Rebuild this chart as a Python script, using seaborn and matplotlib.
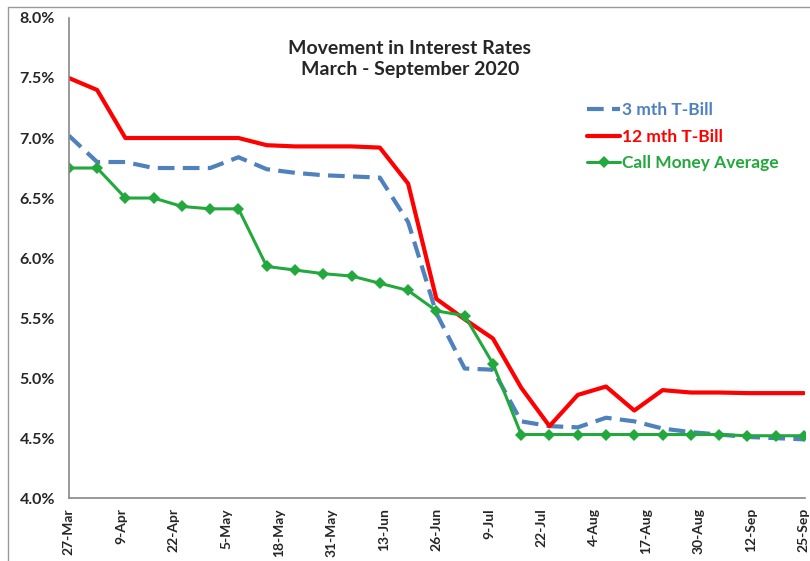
import pandas as pd
import matplotlib.pyplot as plt
import matplotlib.dates as mdates
from matplotlib.lines import Line2D
from matplotlib.ticker import PercentFormatter
import seaborn as sns

dates = pd.date_range("2020-03-27", "2020-09-25", freq="7D")

tbill_3m = [7.02, 6.80, 6.80, 6.75, 6.75, 6.75, 6.84, 6.74, 6.71, 6.69, 6.68, 6.67, 6.30,
            5.54, 5.08, 5.07, 4.64, 4.60, 4.59, 4.67, 4.64, 4.58, 4.55, 4.53, 4.51, 4.50, 4.49]
tbill_12m = [7.50, 7.40, 7.00, 7.00, 7.00, 7.00, 7.00, 6.94, 6.93, 6.93, 6.93, 6.92, 6.62,
             5.66, 5.49, 5.33, 4.92, 4.60, 4.86, 4.93, 4.73, 4.90, 4.88, 4.88, 4.875, 4.875, 4.875]
call_money = [6.75, 6.75, 6.50, 6.50, 6.43, 6.41, 6.41, 5.93, 5.90, 5.87, 5.85, 5.79, 5.73,
              5.56, 5.52, 5.12, 4.53, 4.53, 4.53, 4.53, 4.53, 4.53, 4.53, 4.53, 4.52, 4.52, 4.52]

df = pd.DataFrame({"date": dates, "3m": tbill_3m, "12m": tbill_12m, "call": call_money})

sns.set_style("white")
plt.rcParams["font.family"] = ["Lato", "DejaVu Sans"]

fig = plt.figure(figsize=(8.1, 5.61), dpi=100)
ax = fig.add_axes([0.085, 0.112, 0.909, 0.856])

sns.lineplot(data=df, x="date", y="3m", ax=ax, color="#4f81bd", lw=3,
             linestyle=(0, (4, 2)), label="3 mth T-Bill")
sns.lineplot(data=df, x="date", y="12m", ax=ax, color="#ff0000", lw=3,
             label="12 mth T-Bill")
sns.lineplot(data=df, x="date", y="call", ax=ax, color="#22a83c", lw=2.2,
             marker="D", markersize=6, markeredgewidth=0, label="Call Money Average")

ax.set_ylim(4.0, 8.0)
ax.set_yticks([4.0, 4.5, 5.0, 5.5, 6.0, 6.5, 7.0, 7.5, 8.0])
ax.yaxis.set_major_formatter(PercentFormatter(decimals=1))
ax.set_xlim(dates[0], dates[-1] + pd.Timedelta(days=0.3))
ax.set_xticks(pd.date_range("2020-03-27", "2020-09-25", freq="13D"))
ax.xaxis.set_major_formatter(mdates.DateFormatter("%-d-%b"))
ax.set_xlabel("")
ax.set_ylabel("")

for lab in ax.get_xticklabels():
    lab.set_rotation(90)
    lab.set_fontweight("bold")
    lab.set_fontsize(10)
for lab in ax.get_yticklabels():
    lab.set_fontweight("bold")
    lab.set_fontsize(11.5)

ax.tick_params(axis="x", length=5, width=1, color="#888888", direction="out", pad=2)
ax.tick_params(axis="y", length=0, pad=10)
for side in ["top", "right"]:
    ax.spines[side].set_visible(False)
for side in ["left", "bottom"]:
    ax.spines[side].set_color("#888888")
    ax.spines[side].set_linewidth(1.2)

ax.text(0.463, 0.955, "Movement in Interest Rates\nMarch - September 2020",
        transform=ax.transAxes, ha="center", va="top", fontsize=14,
        fontweight="bold", linespacing=1.35)

leg = ax.legend(loc="upper left", bbox_to_anchor=(0.683, 0.857), frameon=False,
                labelcolor="linecolor", handlelength=1.9, handletextpad=0.1,
                labelspacing=0.6, prop={"weight": "bold", "size": 12.5})

fig.add_artist(Line2D([0.01, 1.0], [0.988, 0.988], color="#999999", lw=1))
fig.add_artist(Line2D([0.01, 0.01], [0.0, 0.988], color="#999999", lw=1))

fig.savefig("out.png", dpi=100)
